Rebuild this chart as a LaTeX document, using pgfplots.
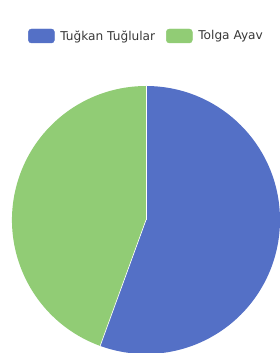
\documentclass[border=0pt]{standalone}
\usepackage{pgfplots}
\usepackage{pgfplotstable}
\usepackage{fontspec}
\setmainfont{DejaVu Sans}
\pgfplotsset{compat=1.18}
\definecolor{cblue}{HTML}{5470C6}
\definecolor{cgreen}{HTML}{91CC75}
\pgfplotstableread{
name value
Tugkan 5
Tolga 4
}\piedata
\begin{document}
\begin{tikzpicture}
\pgfplotstablegetelem{0}{value}\of\piedata \let\va\pgfplotsretval
\pgfplotstablegetelem{1}{value}\of\piedata \let\vb\pgfplotsretval
\pgfmathsetmacro{\tot}{\va+\vb}
\pgfmathsetmacro{\aend}{90-360*\va/\tot}
\useasboundingbox (0,0) rectangle (280bp,353bp);
\clip (0,0) rectangle (280bp,353bp);
\begin{axis}[
  at={(0,0)}, anchor=south west,
  width=280bp, height=353bp, scale only axis,
  xmin=0, xmax=280, ymin=0, ymax=353,
  hide axis, clip mode=global,
  legend columns=2,
  legend style={at={(axis cs:28,317)}, anchor=west, draw=none, fill=none,
    font=\fontsize{12.2}{14}\selectfont, text=black!78,
    /tikz/every even column/.append style={column sep=11bp},
    nodes={inner sep=0pt}, inner sep=0pt, row sep=0pt},
  legend image code/.code={\fill[#1, rounded corners=3bp] (0bp,-7bp) rectangle (26bp,7bp);\path[draw=none,fill=none] (0bp,0bp) -- (32bp,0bp);},
]
\addlegendimage{cblue}
\addlegendentry{Tuğkan Tuğlular}
\addlegendimage{cgreen}
\addlegendentry{Tolga Ayav}
\fill[cblue] (axis cs:146,133) -- ++(90:134bp) arc[start angle=90, end angle=\aend, radius=134bp] -- cycle;
\fill[cgreen] (axis cs:146,133) -- ++(\aend:134bp) arc[start angle=\aend, end angle=-270, radius=134bp] -- cycle;
\draw[white, line width=0.6bp] (axis cs:146,133) -- ++(90:134bp);
\draw[white, line width=0.6bp] (axis cs:146,133) -- ++(\aend:134bp);
\end{axis}
\end{tikzpicture}
\end{document}
